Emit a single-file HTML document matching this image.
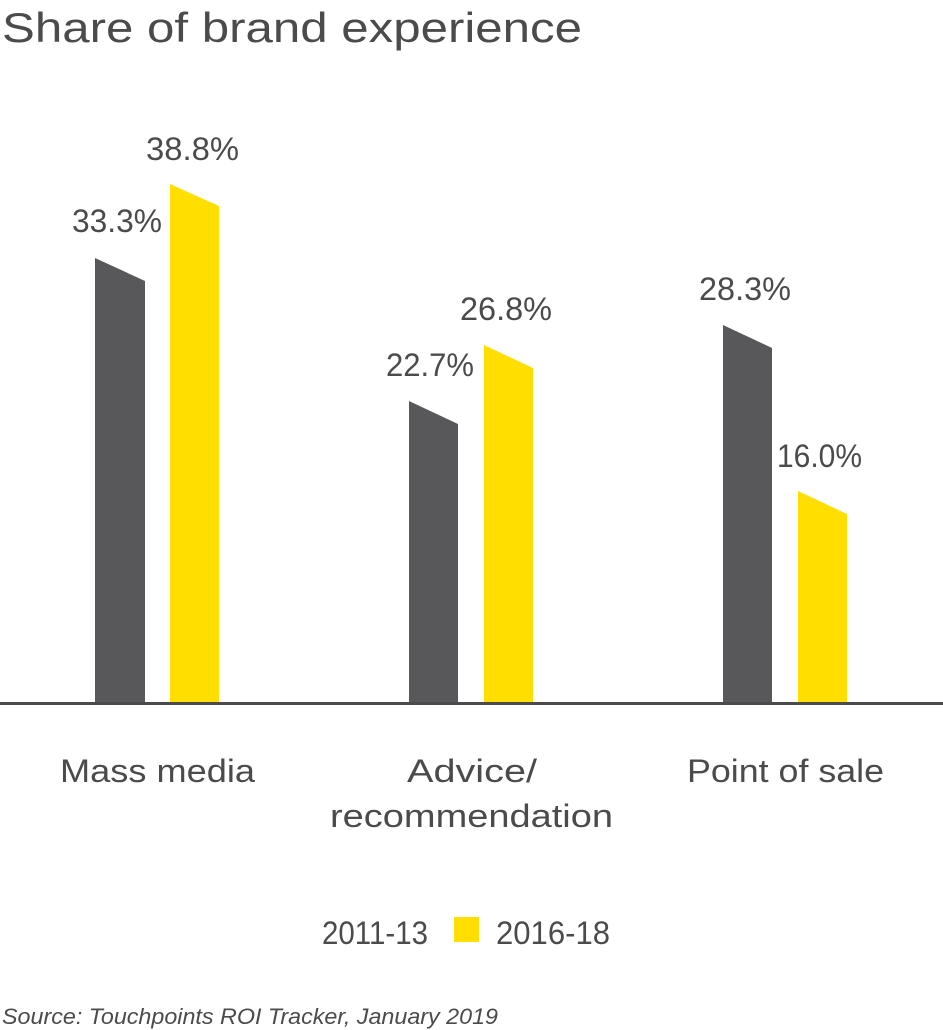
<!DOCTYPE html>
<html><head><style>body{margin:0;background:#fff}svg{display:block}text{font-family:"Liberation Sans",sans-serif;fill:#4b4b4d}</style></head>
<body>
<svg width="943" height="1030" viewBox="0 0 943 1030">
<text x="2" y="42" font-size="42" textLength="580" lengthAdjust="spacingAndGlyphs">Share of brand experience</text>
<polygon points="95,258 145,281 145,704 95,704" fill="#58585a"/>
<polygon points="170,184 219,206 219,704 170,704" fill="#ffde00"/>
<polygon points="409,401 458,424 458,704 409,704" fill="#58585a"/>
<polygon points="484,345 533,368 533,704 484,704" fill="#ffde00"/>
<polygon points="723,325 772,348 772,704 723,704" fill="#58585a"/>
<polygon points="798,491 847,514 847,704 798,704" fill="#ffde00"/>
<rect x="0" y="702" width="943" height="3" fill="#4b4b4d"/>
<g font-size="32">
<text x="72" y="232" textLength="90" lengthAdjust="spacingAndGlyphs">33.3%</text>
<text x="146" y="160" textLength="93" lengthAdjust="spacingAndGlyphs">38.8%</text>
<text x="386" y="376" textLength="88" lengthAdjust="spacingAndGlyphs">22.7%</text>
<text x="460" y="320" textLength="92" lengthAdjust="spacingAndGlyphs">26.8%</text>
<text x="699" y="300" textLength="92" lengthAdjust="spacingAndGlyphs">28.3%</text>
<text x="777" y="467" textLength="85" lengthAdjust="spacingAndGlyphs">16.0%</text>
<text x="60" y="782" textLength="195" lengthAdjust="spacingAndGlyphs">Mass media</text>
<text x="407" y="782" textLength="130" lengthAdjust="spacingAndGlyphs">Advice/</text>
<text x="330" y="827" textLength="283" lengthAdjust="spacingAndGlyphs">recommendation</text>
<text x="687" y="782" textLength="197" lengthAdjust="spacingAndGlyphs">Point of sale</text>
<text x="322" y="944" textLength="106" lengthAdjust="spacingAndGlyphs">2011-13</text>
<text x="496" y="944" textLength="114" lengthAdjust="spacingAndGlyphs">2016-18</text>
</g>
<rect x="454" y="917" width="25" height="25" fill="#ffde00"/>
<text x="2" y="1024" font-size="22" font-style="italic" textLength="496" lengthAdjust="spacingAndGlyphs">Source: Touchpoints ROI Tracker, January 2019</text>
</svg>
</body></html>
